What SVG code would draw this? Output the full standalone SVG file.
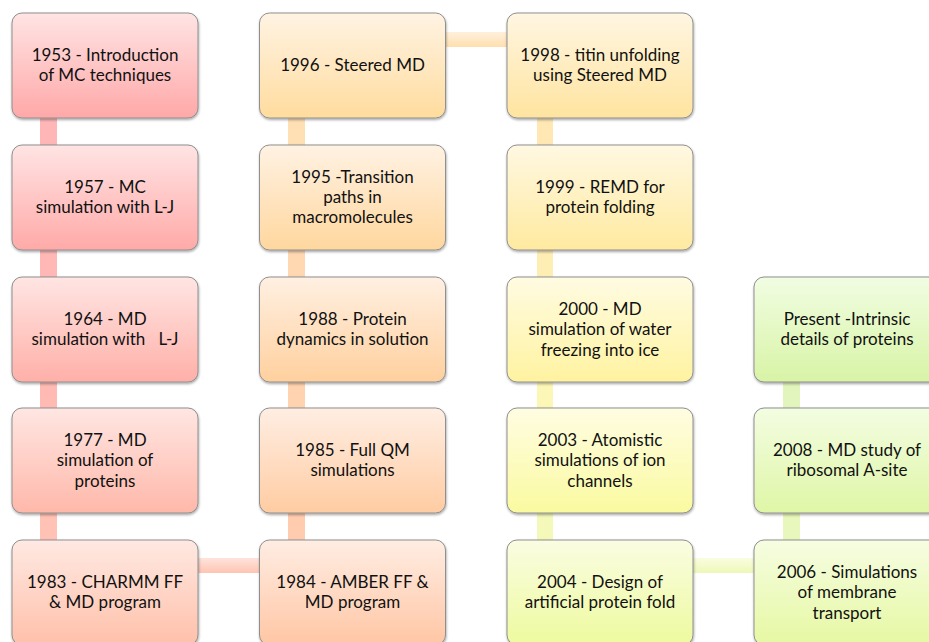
<svg xmlns="http://www.w3.org/2000/svg" width="929" height="642" viewBox="0 0 929 642">
<defs>
<style>
.box{stroke:#8f8f8f;stroke-width:1;filter:url(#sh)}
.t{font-family:Lato,"Open Sans","Liberation Sans",sans-serif;font-size:17px;fill:#111;text-anchor:middle;white-space:pre}
</style>
<filter id="sh" x="-10%" y="-10%" width="130%" height="130%">
<feDropShadow dx="0.5" dy="1.5" stdDeviation="1.2" flood-color="#000" flood-opacity="0.35"/>
</filter>
<linearGradient id="g0" x1="0" y1="0" x2="0" y2="1"><stop offset="0" stop-color="#ffe4e4"/><stop offset="1" stop-color="#ffa8a8"/></linearGradient>
<linearGradient id="g1" x1="0" y1="0" x2="0" y2="1"><stop offset="0" stop-color="#ffe4e4"/><stop offset="1" stop-color="#ffaaa8"/></linearGradient>
<linearGradient id="g2" x1="0" y1="0" x2="0" y2="1"><stop offset="0" stop-color="#ffe5e3"/><stop offset="1" stop-color="#ffb0a8"/></linearGradient>
<linearGradient id="g3" x1="0" y1="0" x2="0" y2="1"><stop offset="0" stop-color="#ffe6e2"/><stop offset="1" stop-color="#ffb8aa"/></linearGradient>
<linearGradient id="g4" x1="0" y1="0" x2="0" y2="1"><stop offset="0" stop-color="#ffe9e2"/><stop offset="1" stop-color="#ffc0aa"/></linearGradient>
<linearGradient id="g5" x1="0" y1="0" x2="0" y2="1"><stop offset="0" stop-color="#ffede3"/><stop offset="1" stop-color="#ffc6a4"/></linearGradient>
<linearGradient id="g6" x1="0" y1="0" x2="0" y2="1"><stop offset="0" stop-color="#ffeee3"/><stop offset="1" stop-color="#ffcca2"/></linearGradient>
<linearGradient id="g7" x1="0" y1="0" x2="0" y2="1"><stop offset="0" stop-color="#fff0e2"/><stop offset="1" stop-color="#ffd09e"/></linearGradient>
<linearGradient id="g8" x1="0" y1="0" x2="0" y2="1"><stop offset="0" stop-color="#fff2e3"/><stop offset="1" stop-color="#ffd79e"/></linearGradient>
<linearGradient id="g9" x1="0" y1="0" x2="0" y2="1"><stop offset="0" stop-color="#fff3e3"/><stop offset="1" stop-color="#ffdc9e"/></linearGradient>
<linearGradient id="g10" x1="0" y1="0" x2="0" y2="1"><stop offset="0" stop-color="#fff6e2"/><stop offset="1" stop-color="#ffe4a0"/></linearGradient>
<linearGradient id="g11" x1="0" y1="0" x2="0" y2="1"><stop offset="0" stop-color="#fff8e2"/><stop offset="1" stop-color="#ffeaa0"/></linearGradient>
<linearGradient id="g12" x1="0" y1="0" x2="0" y2="1"><stop offset="0" stop-color="#fffbe2"/><stop offset="1" stop-color="#fff3a0"/></linearGradient>
<linearGradient id="g13" x1="0" y1="0" x2="0" y2="1"><stop offset="0" stop-color="#fffde2"/><stop offset="1" stop-color="#fafaa0"/></linearGradient>
<linearGradient id="g14" x1="0" y1="0" x2="0" y2="1"><stop offset="0" stop-color="#fafde2"/><stop offset="1" stop-color="#eefa9e"/></linearGradient>
<linearGradient id="g15" x1="0" y1="0" x2="0" y2="1"><stop offset="0" stop-color="#f6fde2"/><stop offset="1" stop-color="#e6f8a2"/></linearGradient>
<linearGradient id="g16" x1="0" y1="0" x2="0" y2="1"><stop offset="0" stop-color="#f3fde2"/><stop offset="1" stop-color="#dff6a6"/></linearGradient>
<linearGradient id="g17" x1="0" y1="0" x2="0" y2="1"><stop offset="0" stop-color="#f1fde2"/><stop offset="1" stop-color="#d8f4a6"/></linearGradient>
<linearGradient id="hA" x1="0" y1="0" x2="0" y2="1"><stop offset="0" stop-color="#ffe4dc"/><stop offset="1" stop-color="#ffc4b2"/></linearGradient>
<linearGradient id="hB" x1="0" y1="0" x2="0" y2="1"><stop offset="0" stop-color="#fff0dc"/><stop offset="1" stop-color="#ffdfae"/></linearGradient>
<linearGradient id="hC" x1="0" y1="0" x2="0" y2="1"><stop offset="0" stop-color="#fafde0"/><stop offset="1" stop-color="#eef8b8"/></linearGradient>
</defs>
<rect width="929" height="642" fill="#ffffff"/>
<g id="connectors">
<rect x="40" y="118" width="17" height="27" fill="#ffb6b6"/>
<rect x="40" y="250" width="17" height="27" fill="#ffb8b6"/>
<rect x="40" y="382" width="17" height="26" fill="#ffbab4"/>
<rect x="40" y="513" width="17" height="27" fill="#ffc2b4"/>
<rect x="198" y="558" width="62" height="15" fill="url(#hA)"/>
<rect x="288" y="513" width="17" height="27" fill="#ffccb0"/>
<rect x="288" y="382" width="17" height="26" fill="#ffd2b0"/>
<rect x="288" y="250" width="17" height="27" fill="#ffd8b2"/>
<rect x="288" y="118" width="17" height="27" fill="#ffe0b4"/>
<rect x="445" y="32" width="62" height="15" fill="url(#hB)"/>
<rect x="537" y="118" width="16" height="27" fill="#ffe8b4"/>
<rect x="537" y="250" width="16" height="27" fill="#ffeeb4"/>
<rect x="537" y="382" width="16" height="26" fill="#fcf7b6"/>
<rect x="537" y="513" width="16" height="27" fill="#f4f9ba"/>
<rect x="693" y="558" width="61" height="15" fill="url(#hC)"/>
<rect x="783" y="513" width="17" height="27" fill="#e8f7bc"/>
<rect x="783" y="382" width="17" height="26" fill="#e2f5bc"/>
</g>
<g id="n1953"><rect class="box" x="12" y="13" width="186" height="105" rx="10" fill="url(#g0)"/><text class="t" x="105" y="61">1953 - Introduction</text><text class="t" x="105" y="81">of MC techniques</text></g>
<g id="n1957"><rect class="box" x="12" y="145" width="186" height="105" rx="10" fill="url(#g1)"/><text class="t" x="105" y="193">1957 - MC</text><text class="t" x="105" y="213">simulation with L-J</text></g>
<g id="n1964"><rect class="box" x="12" y="277" width="186" height="105" rx="10" fill="url(#g2)"/><text class="t" x="105" y="325">1964 - MD</text><text class="t" x="105" y="345">simulation with   L-J</text></g>
<g id="n1977"><rect class="box" x="12" y="408" width="186" height="105" rx="10" fill="url(#g3)"/><text class="t" x="105" y="446">1977 - MD</text><text class="t" x="105" y="466">simulation of</text><text class="t" x="105" y="487">proteins</text></g>
<g id="n1983"><rect class="box" x="12" y="540" width="186" height="105" rx="10" fill="url(#g4)"/><text class="t" x="105" y="588">1983 - CHARMM FF</text><text class="t" x="105" y="608">&amp; MD program</text></g>
<g id="n1984"><rect class="box" x="259.5" y="540" width="186" height="105" rx="10" fill="url(#g5)"/><text class="t" x="352.5" y="588">1984 - AMBER FF &amp;</text><text class="t" x="352.5" y="608">MD program</text></g>
<g id="n1985"><rect class="box" x="259.5" y="408" width="186" height="105" rx="10" fill="url(#g6)"/><text class="t" x="352.5" y="456">1985 - Full QM</text><text class="t" x="352.5" y="476">simulations</text></g>
<g id="n1988"><rect class="box" x="259.5" y="277" width="186" height="105" rx="10" fill="url(#g7)"/><text class="t" x="352.5" y="325">1988 - Protein</text><text class="t" x="352.5" y="345">dynamics in solution</text></g>
<g id="n1995"><rect class="box" x="259.5" y="145" width="186" height="105" rx="10" fill="url(#g8)"/><text class="t" x="352.5" y="183">1995 -Transition</text><text class="t" x="352.5" y="203">paths in</text><text class="t" x="352.5" y="223">macromolecules</text></g>
<g id="n1996"><rect class="box" x="259.5" y="13" width="186" height="105" rx="10" fill="url(#g9)"/><text class="t" x="352.5" y="71">1996 - Steered MD</text></g>
<g id="n1998"><rect class="box" x="507" y="13" width="186" height="105" rx="10" fill="url(#g10)"/><text class="t" x="600" y="61">1998 - titin unfolding</text><text class="t" x="600" y="81">using Steered MD</text></g>
<g id="n1999"><rect class="box" x="507" y="145" width="186" height="105" rx="10" fill="url(#g11)"/><text class="t" x="600" y="193">1999 - REMD for</text><text class="t" x="600" y="213">protein folding</text></g>
<g id="n2000"><rect class="box" x="507" y="277" width="186" height="105" rx="10" fill="url(#g12)"/><text class="t" x="600" y="315">2000 - MD</text><text class="t" x="600" y="335">simulation of water</text><text class="t" x="600" y="356">freezing into ice</text></g>
<g id="n2003"><rect class="box" x="507" y="408" width="186" height="105" rx="10" fill="url(#g13)"/><text class="t" x="600" y="446">2003 - Atomistic</text><text class="t" x="600" y="466">simulations of ion</text><text class="t" x="600" y="487">channels</text></g>
<g id="n2004"><rect class="box" x="507" y="540" width="186" height="105" rx="10" fill="url(#g14)"/><text class="t" x="600" y="588">2004 - Design of</text><text class="t" x="600" y="608">artificial protein fold</text></g>
<g id="n2006"><rect class="box" x="754" y="540" width="186" height="105" rx="10" fill="url(#g15)"/><text class="t" x="847" y="578">2006 - Simulations</text><text class="t" x="847" y="598">of membrane</text><text class="t" x="847" y="619">transport</text></g>
<g id="n2008"><rect class="box" x="754" y="408" width="186" height="105" rx="10" fill="url(#g16)"/><text class="t" x="847" y="456">2008 - MD study of</text><text class="t" x="847" y="476">ribosomal A-site</text></g>
<g id="nPresent"><rect class="box" x="754" y="277" width="186" height="105" rx="10" fill="url(#g17)"/><text class="t" x="847" y="325">Present -Intrinsic</text><text class="t" x="847" y="345">details of proteins</text></g>
</svg>
